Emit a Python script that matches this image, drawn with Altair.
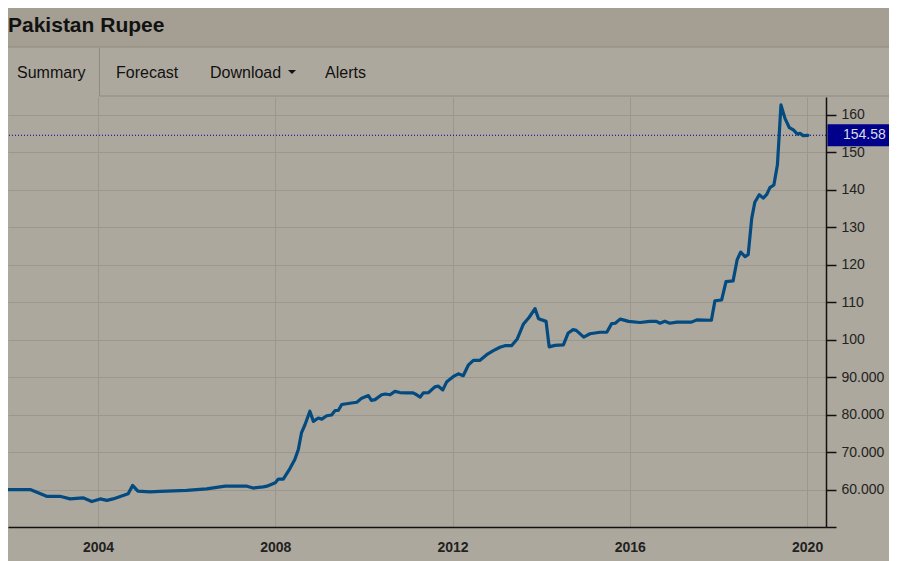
import altair as alt
import pandas as pd

# ---------------- data ----------------
years = [
    2001.79, 2001.94, 2002.47, 2002.84, 2003.14, 2003.37, 2003.66, 2003.86,
    2004.05, 2004.20, 2004.34, 2004.68, 2004.78, 2004.90, 2005.17, 2005.40,
    2006.00, 2006.45, 2006.87, 2007.36, 2007.50, 2007.73, 2007.81, 2008.00,
    2008.07, 2008.18, 2008.33, 2008.44, 2008.52, 2008.59, 2008.67, 2008.78,
    2008.86, 2008.97, 2009.05, 2009.16, 2009.27, 2009.35, 2009.42, 2009.50,
    2009.61, 2009.72, 2009.84, 2009.95, 2010.10, 2010.17, 2010.25, 2010.40,
    2010.48, 2010.59, 2010.70, 2010.81, 2010.97, 2011.11, 2011.19, 2011.27,
    2011.34, 2011.46, 2011.60, 2011.68, 2011.78, 2011.87, 2012.02, 2012.13,
    2012.24, 2012.36, 2012.47, 2012.62, 2012.77, 2012.92, 2013.07, 2013.18,
    2013.33, 2013.46, 2013.60, 2013.73, 2013.86, 2013.94, 2014.11, 2014.18,
    2014.31, 2014.50, 2014.61, 2014.72, 2014.79, 2014.96, 2015.10, 2015.33,
    2015.48, 2015.59, 2015.67, 2015.78, 2015.85, 2015.97, 2016.23, 2016.45,
    2016.60, 2016.68, 2016.79, 2016.90, 2017.06, 2017.39, 2017.51, 2017.84,
    2017.92, 2018.07, 2018.17, 2018.33, 2018.42, 2018.50, 2018.60, 2018.67,
    2018.75, 2018.82, 2018.92, 2019.01, 2019.09, 2019.16, 2019.25, 2019.33,
    2019.37, 2019.41, 2019.50, 2019.60, 2019.69, 2019.78, 2019.84, 2019.91,
    2020.02,
]
rates = [
    61.3, 60.0, 60.0, 58.2, 58.2, 57.5, 57.8, 56.8,
    57.5, 57.1, 57.5, 58.9, 61.1, 59.6, 59.4, 59.5,
    59.8, 60.2, 60.9, 60.9, 60.4, 60.7, 60.9, 61.8,
    62.8, 62.8, 65.6, 68.0, 70.7, 75.1, 77.3, 80.9,
    78.2, 79.1, 78.8, 79.7, 79.9, 81.1, 81.1, 82.7,
    82.9, 83.1, 83.3, 84.4, 85.1, 83.8, 84.0, 85.3,
    85.5, 85.3, 86.2, 85.9, 85.8, 85.8, 85.3, 84.7,
    85.8, 85.9, 87.4, 87.6, 86.6, 88.8, 90.2, 90.9,
    90.4, 93.3, 94.5, 94.5, 96.0, 97.1, 98.0, 98.4,
    98.4, 100.2, 104.2, 106.0, 108.3, 105.6, 104.9, 98.1,
    98.5, 98.6, 101.8, 102.7, 102.5, 100.7, 101.6, 102.0,
    102.0, 104.3, 104.4, 105.5, 105.3, 104.9, 104.6, 104.9,
    104.9, 104.4, 104.9, 104.4, 104.7, 104.7, 105.3, 105.2,
    110.4, 110.6, 115.5, 115.7, 121.3, 123.4, 122.2, 122.7,
    132.4, 136.7, 138.7, 137.8, 138.8, 140.6, 141.3, 146.7,
    154.7, 162.7, 159.1, 156.6, 156.0, 154.9, 155.1, 154.5,
    154.58,
]
last_value = [154.58]
x_ticks = [2004, 2008, 2012, 2016, 2020]
y_ticks = [50, 60, 70, 80, 90, 100, 110, 120, 130, 140, 150, 160]
title_text = "Pakistan Rupee"
tab_labels = ["Summary", "Forecast", "Download", "Alerts"]

# ---------------- styling ----------------
FONT = "Liberation Sans, Arial, Helvetica, sans-serif"
BG = "#ADA89D"
HEADER_BG = "#A49E93"
BORDER = "#8F8A80"
GRID = "#9C978C"
LINE = "#034A80"
NAVY = "#00008B"
AXIS = "#111111"

PLOT_W, PLOT_H = 818, 430
TOTAL_W = 881
X_DOMAIN = [2001.969, 2020.426]
Y_DOMAIN = [50, 164.8]

df = pd.DataFrame({"year": years, "rate": rates})
last_df = pd.DataFrame({"v": last_value})
one = pd.DataFrame({"a": [0]})

xscale = alt.Scale(domain=X_DOMAIN, nice=False, zero=False)
yscale = alt.Scale(domain=Y_DOMAIN, nice=False, zero=False)

x_axis = alt.Axis(
    values=x_ticks, format="d", ticks=False, labelPadding=13,
    labelFontSize=14, labelFontWeight="bold", labelColor="#222",
    labelFont=FONT, domainColor=AXIS, domainWidth=1.5,
    grid=True, gridColor=GRID, gridWidth=1, title=None,
    labelFlush=False, labelOverlap=False,
)
y_axis = alt.Axis(
    orient="right", values=y_ticks,
    labelExpr="datum.value == 50 ? '' : (datum.value >= 100 ? format(datum.value, 'd') : format(datum.value, '.3f'))",
    tickSize=10, tickWidth=1.5, tickColor=AXIS,
    domainColor=AXIS, domainWidth=1.5,
    labelFontSize=14, labelColor="#222", labelFont=FONT, labelPadding=5,
    grid=True, gridColor=GRID, gridWidth=1, title=None,
    labelFlush=False, labelOverlap=False,
)

# header band and tab bar
header = alt.Chart(one).mark_rect(color=HEADER_BG).encode(
    x=alt.value(0), x2=alt.value(TOTAL_W), y=alt.value(-89), y2=alt.value(-50)
)
header_line = alt.Chart(one).mark_rule(color=BORDER, strokeWidth=1.2).encode(
    x=alt.value(0), x2=alt.value(TOTAL_W), y=alt.value(-50)
)
tab_vline = alt.Chart(one).mark_rule(color=BORDER, strokeWidth=1).encode(
    x=alt.value(91.5), y=alt.value(-49), y2=alt.value(-1)
)
tab_hline = alt.Chart(one).mark_rule(color=BORDER, strokeWidth=1).encode(
    x=alt.value(91), x2=alt.value(TOTAL_W), y=alt.value(-1)
)
title = alt.Chart(one).mark_text(
    text=title_text, font=FONT, fontSize=21, fontWeight="bold", color="#111",
    align="left", baseline="alphabetic",
).encode(x=alt.value(0), y=alt.value(-65.5))

tab_pos = [9, 108, 202, 317]
tab_layers = []
for lab, px in zip(tab_labels, tab_pos):
    tab_layers.append(
        alt.Chart(one).mark_text(
            text=lab, font=FONT, fontSize=16, color="#111",
            align="left", baseline="alphabetic",
        ).encode(x=alt.value(px), y=alt.value(-19.5))
    )
caret = alt.Chart(one).mark_point(
    shape="M-1,-0.5L1,-0.5L0,0.5Z", size=64, filled=True, opacity=1,
    color="#111", strokeWidth=0,
).encode(x=alt.value(284), y=alt.value(-25))

# main series
line = alt.Chart(df).mark_line(
    color=LINE, strokeWidth=3.2, clip=True, strokeJoin="round", strokeCap="round"
).encode(
    x=alt.X("year:Q", scale=xscale, axis=x_axis),
    y=alt.Y("rate:Q", scale=yscale, axis=y_axis),
)

last_rule = alt.Chart(last_df).mark_rule(
    color=NAVY, strokeWidth=1, strokeDash=[1, 2]
).encode(y=alt.Y("v:Q", scale=yscale, axis=y_axis))

last_box = alt.Chart(last_df).transform_calculate(
    lo="datum.v - 2.95", hi="datum.v + 2.95"
).mark_rect(color=NAVY).encode(
    x=alt.value(819.5), x2=alt.value(TOTAL_W),
    y=alt.Y("lo:Q", scale=yscale, axis=y_axis), y2="hi:Q",
)
last_text = alt.Chart(last_df).mark_text(
    font=FONT, fontSize=14, color="#DCDCE4", align="left", baseline="middle"
).encode(
    x=alt.value(835), y=alt.Y("v:Q", scale=yscale, axis=y_axis),
    text=alt.Text("v:Q", format=".2f"),
)

chart = alt.layer(
    header, header_line, tab_vline, tab_hline, title, *tab_layers, caret,
    last_rule, line, last_box, last_text,
).properties(
    width=PLOT_W, height=PLOT_H,
    autosize=alt.AutoSizeParams(type="none"),
    padding={"top": 89, "left": 0, "right": TOTAL_W - PLOT_W, "bottom": 34},
    background=BG,
).configure_view(stroke=None, fill=BG)

chart.save("out.html", embed_options={"renderer": "svg", "actions": False})
